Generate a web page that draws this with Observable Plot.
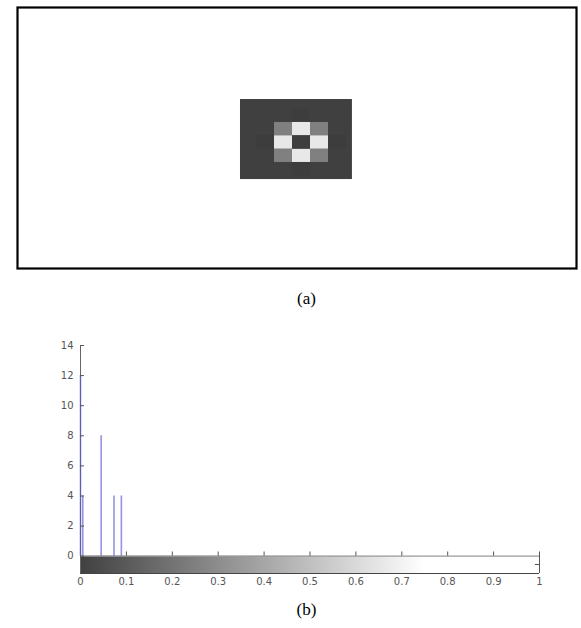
<!DOCTYPE html>
<html><head><meta charset="utf-8">
<script src="https://cdn.jsdelivr.net/npm/d3@7"></script>
<script src="https://cdn.jsdelivr.net/npm/@observablehq/plot@0.6"></script>
<style>
body{margin:0;background:#fff;}
#wrap{position:relative;width:581px;height:628px;overflow:hidden;background:#fff;}
#a,#b{position:absolute;left:0;}
#a{top:0px}
#b{top:330px}
.cap{position:absolute;left:16px;width:581px;text-align:center;font-family:"Liberation Serif","Times New Roman",serif;font-size:17px;line-height:17px;color:#000}
</style></head>
<body><div id="wrap">
<div id="a"></div>
<div class="cap" style="top:290px">(a)</div>
<div id="b"></div>
<div class="cap" style="top:601px">(b)</div>
</div>
<script>
// ---- Panel (a): the image, cell grid (column, row) and gray level 0..1 ----
const imageX = [0.11, 6.33];     // image extent in cell units
const imageY = [0.28, 6.28];
const imageGray = 0.25;          // background gray of the image
const cellCol  = [3, 1, 5, 3,   2, 4, 2, 4,   3, 2, 4, 3,   3];
const cellRow  = [1, 3, 3, 5,   2, 2, 4, 4,   2, 3, 3, 4,   3];
const cellGray = [0.238, 0.238, 0.238, 0.238,  0.5, 0.5, 0.5, 0.5,  0.91, 0.91, 0.91, 0.91,  0.245];

// ---- Panel (b): histogram stems ----
const stemX     = [0, 0.005, 0.045, 0.073, 0.089];
const stemCount = [12, 4, 8, 4, 4];
const yTicks = [0, 2, 4, 6, 8, 10, 12, 14];
const xTicks = [0, 0.1, 0.2, 0.3, 0.4, 0.5, 0.6, 0.7, 0.8, 0.9, 1];
const xInnerTicks = [0.1, 0.2, 0.3, 0.4, 0.5, 0.6, 0.7, 0.8, 0.9];
// colorbar: position along x -> gray level
const colorbarPos  = [0, 0.75, 1];
const colorbarGray = [0.25, 1, 1];
const colorbarBottom = -1.15;

const grayOf = d3.interpolateRgb("#000", "#fff");

const cells = cellGray.map((g, i) => ({c: cellCol[i], r: cellRow[i], g}));

const plotA = Plot.plot({
  width: 581, height: 272,
  marginTop: 7, marginBottom: 4, marginLeft: 17, marginRight: 5,
  x: {domain: [-12.28, 18.78], axis: null},
  y: {domain: [-6.62, 12.95], reverse: true, axis: null},
  color: {type: "linear", domain: [0, 1], range: ["#000", "#fff"]},
  marks: [
    Plot.rect([imageGray], {x1: () => imageX[0], x2: () => imageX[1], y1: () => imageY[0], y2: () => imageY[1], fill: d => d}),
    Plot.rect(cells, {x1: "c", x2: d => d.c + 1, y1: "r", y2: d => d.r + 1, fill: "g"}),
    Plot.frame({stroke: "#000", strokeWidth: 2.2})
  ]
});
document.getElementById("a").append(plotA);

const stems = stemX.map((x, i) => ({x, n: stemCount[i]}));

const gradientDefs = () => {
  const ns = "http://www.w3.org/2000/svg";
  const defs = document.createElementNS(ns, "defs");
  const lg = document.createElementNS(ns, "linearGradient");
  lg.setAttribute("id", "cbar");
  lg.setAttribute("x1", "0"); lg.setAttribute("y1", "0");
  lg.setAttribute("x2", "1"); lg.setAttribute("y2", "0");
  colorbarPos.forEach((p, i) => {
    const s = document.createElementNS(ns, "stop");
    s.setAttribute("offset", String(p));
    s.setAttribute("stop-color", grayOf(colorbarGray[i]));
    lg.append(s);
  });
  defs.append(lg);
  return defs;
};

const plotB = Plot.plot({
  width: 581, height: 265,
  marginTop: 15, marginBottom: 22, marginLeft: 80, marginRight: 42,
  x: {domain: [0, 1], label: null},
  y: {domain: [colorbarBottom, 14], label: null},
  style: {fontFamily: "DejaVu Sans", fontSize: "10px", color: "#444", background: "transparent"},
  marks: [
    gradientDefs,
    Plot.rect([0], {x1: () => 0, x2: () => 1, y1: () => colorbarBottom, y2: () => 0, fill: "url(#cbar)"}),
    Plot.ruleY([0], {x1: 0, x2: 1, stroke: "#9a9a9a", strokeWidth: 1.2}),
    Plot.ruleY([colorbarBottom], {x1: 0, x2: 1, stroke: "#444", strokeWidth: 1.2}),
    Plot.ruleX(xInnerTicks, {x: d => d, y1: 0, y2: 0.28, stroke: "#555"}),
    Plot.ruleX([1], {y1: colorbarBottom, y2: 0.28, stroke: "#555"}),
    Plot.ruleY([-0.55], {x1: 0.991, x2: 1, stroke: "#555"}),
    Plot.ruleX([0], {stroke: "#666", strokeWidth: 1}),
    Plot.ruleX(stems, {x: "x", y1: 0, y2: "n", stroke: "#5a5ad0", strokeOpacity: 0.65, strokeWidth: 1.6}),
    Plot.axisY({ticks: yTicks, label: null, tickSize: -4, tickPadding: 11, stroke: "#555", fill: "#555", tickFormat: d => String(d), letterSpacing: 0.8}),
    Plot.axisX({ticks: xTicks, label: null, tickSize: 0, tickPadding: 4, fill: "#555", tickFormat: d => String(d), letterSpacing: 0.8})
  ]
});
document.getElementById("b").append(plotB);
</script>
</body></html>
